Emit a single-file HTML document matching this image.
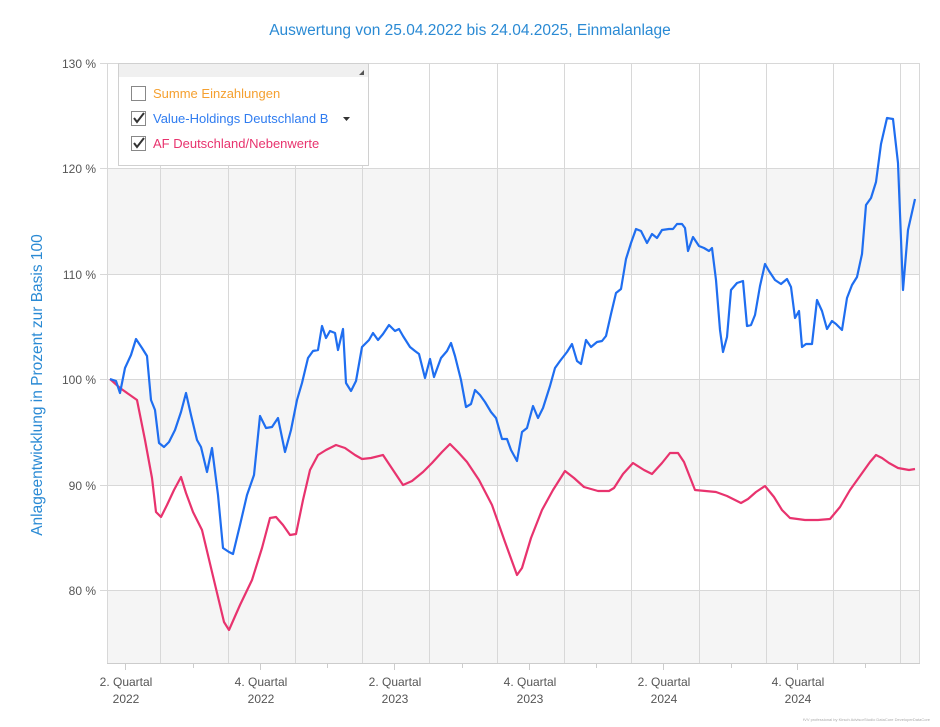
<!DOCTYPE html>
<html><head><meta charset="utf-8"><style>
body{margin:0;background:#fff;}
svg{display:block;font-family:"Liberation Sans",sans-serif;}
</style></head><body>
<svg width="940" height="727" viewBox="0 0 940 727">
<text x="470" y="35" text-anchor="middle" font-size="15.5" fill="#2a8ad4">Auswertung von 25.04.2022 bis 24.04.2025, Einmalanlage</text>
<text transform="translate(42,385) rotate(-90)" text-anchor="middle" font-size="15.5" fill="#2a8ad4">Anlageentwicklung  in Prozent zur Basis 100</text>
<rect x="107" y="63" width="813" height="600" fill="#fff"/>
<rect x="107" y="168" width="813" height="106" fill="#f5f5f5"/>
<rect x="107" y="379" width="813" height="106" fill="#f5f5f5"/>
<rect x="107" y="590" width="813" height="73" fill="#f5f5f5"/>
<g stroke="#d8d8d8" stroke-width="1">
<line x1="100" y1="63.5" x2="920" y2="63.5"/><line x1="100" y1="168.5" x2="920" y2="168.5"/>
<line x1="100" y1="274.5" x2="920" y2="274.5"/><line x1="100" y1="379.5" x2="920" y2="379.5"/>
<line x1="100" y1="485.5" x2="920" y2="485.5"/><line x1="100" y1="590.5" x2="920" y2="590.5"/>
<line x1="160.5" y1="63" x2="160.5" y2="663"/><line x1="228.5" y1="63" x2="228.5" y2="663"/>
<line x1="295.5" y1="63" x2="295.5" y2="663"/><line x1="362.5" y1="63" x2="362.5" y2="663"/>
<line x1="429.5" y1="63" x2="429.5" y2="663"/><line x1="497.5" y1="63" x2="497.5" y2="663"/>
<line x1="564.5" y1="63" x2="564.5" y2="663"/><line x1="631.5" y1="63" x2="631.5" y2="663"/>
<line x1="699.5" y1="63" x2="699.5" y2="663"/><line x1="766.5" y1="63" x2="766.5" y2="663"/>
<line x1="833.5" y1="63" x2="833.5" y2="663"/><line x1="900.5" y1="63" x2="900.5" y2="663"/>
<line x1="919.5" y1="63" x2="919.5" y2="663"/>
<line x1="107.5" y1="63" x2="107.5" y2="663"/>
<line x1="107" y1="663.5" x2="920" y2="663.5" stroke="#ccc"/>
</g>
<g stroke="#ccc" stroke-width="1">
<line x1="125.5" y1="663" x2="125.5" y2="670"/><line x1="260.5" y1="663" x2="260.5" y2="670"/>
<line x1="394.5" y1="663" x2="394.5" y2="670"/><line x1="529.5" y1="663" x2="529.5" y2="670"/>
<line x1="663.5" y1="663" x2="663.5" y2="670"/><line x1="797.5" y1="663" x2="797.5" y2="670"/>
<line x1="193.5" y1="663" x2="193.5" y2="668"/><line x1="327.5" y1="663" x2="327.5" y2="668"/>
<line x1="462.5" y1="663" x2="462.5" y2="668"/><line x1="596.5" y1="663" x2="596.5" y2="668"/>
<line x1="731.5" y1="663" x2="731.5" y2="668"/><line x1="865.5" y1="663" x2="865.5" y2="668"/>
</g>
<g font-size="12" fill="#555" text-anchor="end">
<text x="96" y="68">130 %</text><text x="96" y="173">120 %</text><text x="96" y="279">110 %</text>
<text x="96" y="384">100 %</text><text x="96" y="490">90 %</text><text x="96" y="595">80 %</text>
</g>
<g font-size="12" fill="#555" text-anchor="middle">
<text x="126" y="686">2. Quartal</text><text x="126" y="703">2022</text>
<text x="261" y="686">4. Quartal</text><text x="261" y="703">2022</text>
<text x="395" y="686">2. Quartal</text><text x="395" y="703">2023</text>
<text x="530" y="686">4. Quartal</text><text x="530" y="703">2023</text>
<text x="664" y="686">2. Quartal</text><text x="664" y="703">2024</text>
<text x="798" y="686">4. Quartal</text><text x="798" y="703">2024</text>
</g>
<polyline fill="none" stroke="#e8336e" stroke-width="2.2" stroke-linejoin="round" points="110,379 120,388 137,400 145,440 152,478 156,512 161,517 167,505 174,490 181,477 186,493 193,512 202,530 212,572 224,622 229,630 240,605 252,580 262,548 270,518 276,517 283,525 290,535 296,534 303,500 310,470 318,455 326,450 336,445 345,448 355,455 362,459 371,458 383,455 393,470 403,485 412,481 423,472 432,463 442,452 450,444 458,452 467,462 479,480 492,505 505,542 517,575 522,568 531,538 542,510 553,490 565,471 574,478 584,487 598,491 609,491 614,488 623,474 633,463 644,470 652,474 662,463 670,453 678,453 684,462 695,490 716,492 727,496 741,503 748,499 756,492 765,486 774,497 782,510 790,518 805,520 818,520 830,519 840,507 850,490 860,476 870,462 876,455 882,458 889,463 898,468 909,470 915,469"/>
<polyline fill="none" stroke="#1f6ef0" stroke-width="2.2" stroke-linejoin="round" points="110,379 116,381 120,393 125,368 131,355 136,339 142,348 147,356 151,400 155,410 159,443 164,447 169,442 175,430 181,412 186,393 191,415 197,440 201,447 207,472 212,448 218,495 223,548 229,552 233,554 240,525 247,495 254,475 260,416 266,428 272,427 278,418 285,452 291,430 297,400 302,383 308,358 313,351 318,350 322,326 326,338 330,331 335,333 338,350 343,329 346,383 351,391 356,381 362,347 369,340 373,333 378,340 383,334 389,325 395,331 399,329 403,336 410,347 415,351 419,354 425,378 430,359 434,377 441,358 447,351 451,343 455,356 461,380 466,407 471,404 475,390 480,395 485,402 491,412 496,418 502,439 507,439 511,450 517,461 522,432 527,428 533,406 538,418 543,408 550,386 555,368 560,361 567,352 572,344 577,361 581,364 586,340 591,347 597,342 602,341 606,336 611,314 616,293 621,289 626,259 631,243 636,229 641,231 647,243 652,234 657,238 662,230 669,229 673,229 677,224 682,224 685,228 688,251 693,237 699,246 704,248 709,251 712,248 716,280 720,330 723,352 727,337 731,290 737,283 743,281 747,326 751,325 755,315 760,286 765,264 769,271 775,280 781,284 787,279 791,287 795,318 799,311 802,347 806,344 812,344 817,300 822,311 827,329 832,321 836,324 842,330 847,298 852,285 857,277 862,254 866,205 871,198 876,182 881,144 887,118 893,119 898,163 903,290 908,230 915,199"/>
<rect x="118.5" y="63.5" width="250" height="102" fill="#fff" stroke="#d0d0d0"/>
<rect x="119" y="64" width="249" height="13" fill="#f0f0f0"/>
<polygon points="364,70 364,75 359,75" fill="#555"/>
<rect x="131.5" y="86.5" width="14" height="14" fill="#fff" stroke="#888"/>
<rect x="131.5" y="111.5" width="14" height="14" fill="#fff" stroke="#888"/>
<rect x="131.5" y="136.5" width="14" height="14" fill="#fff" stroke="#888"/>
<polyline points="134,118 137,122 144,113" fill="none" stroke="#333" stroke-width="2"/>
<polyline points="134,143 137,147 144,138" fill="none" stroke="#333" stroke-width="2"/>
<g font-size="13">
<text x="153" y="98" fill="#f5a030">Summe Einzahlungen</text>
<text x="153" y="123" fill="#2f7cf0">Value-Holdings Deutschland B</text>
<text x="153" y="148" fill="#e8336e">AF Deutschland/Nebenwerte</text>
</g>
<polygon points="343,117 350,117 346.5,121" fill="#333"/>
<text x="930" y="721" text-anchor="end" font-size="4" fill="#aaa">fVV professional by Kirsch AdvisorStudio DataCore DeveloperDataCore</text>
</svg>
</body></html>
